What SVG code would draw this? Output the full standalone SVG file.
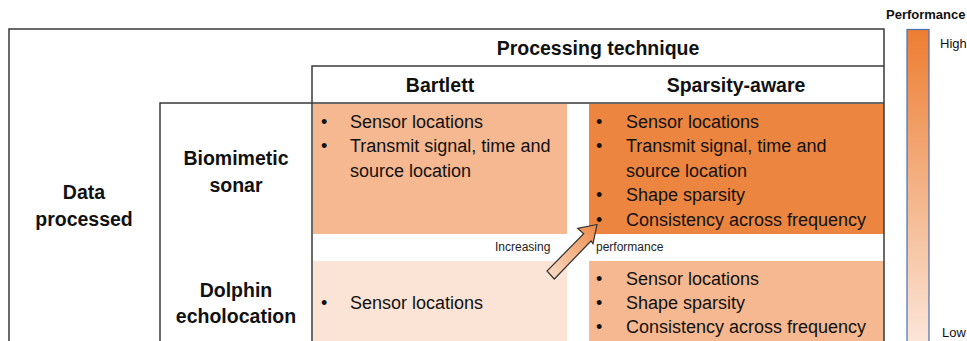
<svg xmlns="http://www.w3.org/2000/svg" width="967" height="341" viewBox="0 0 967 341">
<defs>
<linearGradient id="bar" x1="0" y1="0" x2="0" y2="1">
<stop offset="0" stop-color="#ED7D31"/>
<stop offset="1" stop-color="#FBE8DC"/>
</linearGradient>
<linearGradient id="arr" x1="550" y1="275" x2="597" y2="225" gradientUnits="userSpaceOnUse">
<stop offset="0" stop-color="#FAD9C3"/>
<stop offset="1" stop-color="#EE8A48"/>
</linearGradient>
<style>
.frame{fill:none;stroke:#3a3a3a;stroke-width:1.5}
.h{font-family:"Liberation Sans",Arial,sans-serif;font-weight:bold;font-size:19.5px;fill:#111;text-anchor:middle}
.t{font-family:"Liberation Sans",Arial,sans-serif;font-size:18px;fill:#111}
.s{font-family:"Liberation Sans",Arial,sans-serif;font-size:12px;fill:#222}
</style>
</defs>
<rect width="967" height="341" fill="#fff"/>

<g id="cells">
<rect id="bs-bartlett" x="313" y="104" width="254" height="130" fill="#F5B891"/>
<rect id="bs-sparsity" x="589" y="104" width="295" height="130" fill="#EC8540"/>
<rect id="de-bartlett" x="313" y="261" width="254" height="80" fill="#FBE4D5"/>
<rect id="de-sparsity" x="589" y="261" width="295" height="80" fill="#F5B891"/>
</g>

<g id="frame">
<path class="frame" d="M9 341V29H884V341"/>
<path class="frame" d="M312 341V66H884"/>
<path class="frame" d="M160 341V103H884"/>
</g>

<g id="headers">
<text class="h" x="598" y="55" font-size="19">Processing technique</text>
<text class="h" x="440" y="92">Bartlett</text>
<text class="h" x="736" y="92">Sparsity-aware</text>
<text class="h" x="84" y="199">Data</text>
<text class="h" x="84" y="226">processed</text>
<text class="h" x="236" y="165">Biomimetic</text>
<text class="h" x="236" y="192">sonar</text>
<text class="h" x="236" y="297">Dolphin</text>
<text class="h" x="236" y="323">echolocation</text>
</g>

<g id="bs-bartlett-text" class="t">
<text x="321" y="128">•</text><text x="350" y="128">Sensor locations</text>
<text x="321" y="152">•</text><text x="350" y="152">Transmit signal, time and</text>
<text x="350" y="177">source location</text>
</g>
<g id="bs-sparsity-text" class="t">
<text x="596" y="128">•</text><text x="626" y="128">Sensor locations</text>
<text x="596" y="152">•</text><text x="626" y="152">Transmit signal, time and</text>
<text x="626" y="177">source location</text>
<text x="596" y="201">•</text><text x="626" y="201">Shape sparsity</text>
<text x="596" y="226">•</text><text x="626" y="226">Consistency across frequency</text>
</g>
<g id="de-bartlett-text" class="t">
<text x="321" y="309">•</text><text x="350" y="309">Sensor locations</text>
</g>
<g id="de-sparsity-text" class="t">
<text x="596" y="285">•</text><text x="626" y="285">Sensor locations</text>
<text x="596" y="309">•</text><text x="626" y="309">Shape sparsity</text>
<text x="596" y="333">•</text><text x="626" y="333">Consistency across frequency</text>
</g>

<g id="connectors">
<text class="s" x="495" y="251">Increasing</text>
<text class="s" x="596" y="251">performance</text>
<path d="M597 224.5L577.7 228.3L583.7 233.7L547 271L554.3 279L591 241L593 243.7Z" fill="url(#arr)" stroke="#333" stroke-width="1.2" stroke-linejoin="miter"/>
</g>

<g id="legend">
<text x="886" y="19" font-family="'Liberation Sans',Arial,sans-serif" font-size="13" font-weight="bold" fill="#111">Performance</text>
<rect x="907" y="29.5" width="22" height="320" fill="url(#bar)" stroke="#4A6FB5" stroke-width="1.2"/>
<text x="940" y="48" font-family="'Liberation Sans',Arial,sans-serif" font-size="13" fill="#111">High</text>
<text x="942" y="337" font-family="'Liberation Sans',Arial,sans-serif" font-size="13" fill="#111">Low</text>
</g>
</svg>
